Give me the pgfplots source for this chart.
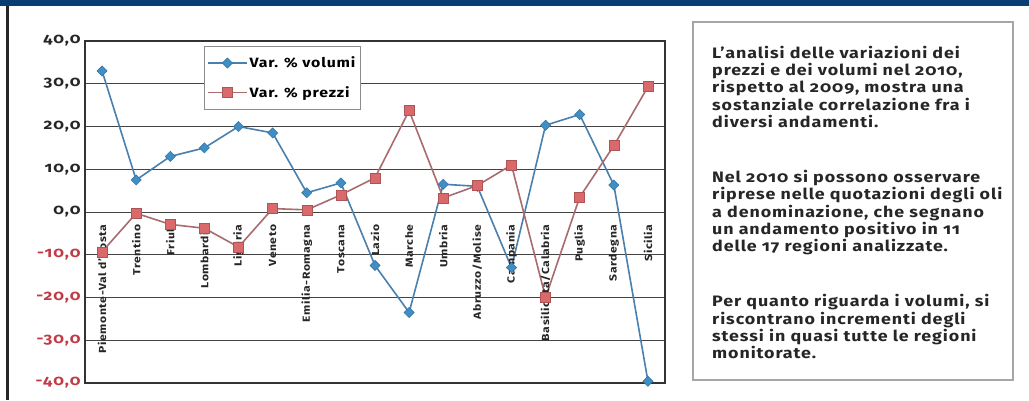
\documentclass[border=0pt]{standalone}
\usepackage{fontspec}
\setmainfont{Fira Sans}[Numbers=OldStyle, FakeStretch=1.18, LetterSpace=6]
\usepackage{pgfplots}
\pgfplotsset{compat=1.18}
\definecolor{topbar}{HTML}{0A3D72}
\definecolor{volblue}{HTML}{3F8EC6}
\definecolor{volline}{HTML}{4A80AD}
\definecolor{prred}{HTML}{D9696B}
\definecolor{prline}{HTML}{A86C6E}
\definecolor{negred}{HTML}{C23A45}
\definecolor{gridc}{HTML}{444444}
\begin{document}
\begin{tikzpicture}[x=1bp,y=1bp]
\useasboundingbox (0,0) rectangle (1029,400);
\fill[white] (0,0) rectangle (1029,400);
\fill[topbar] (0,394) rectangle (1029,400);
\fill[black!85] (6,0) rectangle (8.5,394);
\begin{axis}[
  at={(85bp,17bp)}, anchor=south west, scale only axis,
  width=580bp, height=342bp,
  xmin=0.5, xmax=17.5, ymin=-40, ymax=40,
  xtick=\empty,
  minor xtick={1.5,2.5,...,16.5},
  xminorgrids=true,
  ytick={-40,-30,...,40},
  yticklabels={{\textcolor{negred}{-40,0}},{\textcolor{negred}{-30,0}},{\textcolor{negred}{-20,0}},{\textcolor{negred}{-10,0}},{0,0},{10,0},{20,0},{30,0},{40,0}},
  ymajorgrids=true,
  major tick length=0pt, minor tick length=0pt,
  grid style={gridc, line width=1bp},
  minor grid style={gridc, line width=1bp},
  axis line style={line width=2bp, black!80},
  /pgf/number format/assume math mode=true,
  y tick label style={font=\bfseries\fontsize{14.5}{14.5}\selectfont, color=black!85, xshift=-1bp},
  clip=false,
  legend style={at={(rel axis cs:0.205,0.985)}, anchor=north west, draw=black!45, fill=white,
    font=\bfseries\fontsize{13.5}{15}\selectfont, row sep=13bp, inner xsep=3bp, inner ysep=8.5bp,
    nodes={inner xsep=2bp}},
  legend cell align=left,
  legend image code/.code={\draw[mark repeat=2,mark phase=2] plot coordinates {(0bp,0bp) (19.5bp,0bp) (39bp,0bp)};},
]
\addplot[volline, line width=1.6bp, mark=square*, mark size=3.6bp,
  mark options={rotate=45, fill=volblue, draw=volblue!80!black, line width=0.5bp}]
  coordinates {(1,33) (2,7.5) (3,13) (4,15) (5,20) (6,18.5) (7,4.5) (8,6.8) (9,-12.5)
  (10,-23.5) (11,6.5) (12,6) (13,-13) (14,20.3) (15,22.8) (16,6.3) (17,-39.6)};
\addlegendentry{Var. \% volumi}
\addplot[prline, line width=1.6bp, mark=square*, mark size=5bp,
  mark options={fill=prred, draw=prred!80!black, line width=0.5bp}]
  coordinates {(1,-9.3) (2,-0.3) (3,-2.9) (4,-3.8) (5,-8.2) (6,0.8) (7,0.5) (8,4) (9,8)
  (10,23.7) (11,3.3) (12,6.2) (13,11) (14,-20) (15,3.5) (16,15.5) (17,29.3)};
\addlegendentry{Var. \% prezzi}
\foreach \i/\lab in {1/{Piemonte-Val d'Aosta},2/Trentino,3/Friuli,4/Lombardia,5/Liguria,6/Veneto,7/Emilia-Romagna,8/Toscana,9/Lazio,10/Marche,11/Umbria,12/{Abruzzo/Molise},13/Campania,14/{Basilicata/Calabria},15/Puglia,16/Sardegna,17/Sicilia}{
  \edef\tmp{\noexpand\node[rotate=90, anchor=east, inner sep=0pt, xshift=-3bp, font=\noexpand\bfseries\noexpand\fontsize{10.3}{10.3}\noexpand\selectfont, text=black!85] at (axis cs:\i,-2.2) {\lab};}
  \tmp
}
\end{axis}
\draw[black!35, line width=1.5bp] (693,20) rectangle (1013,378);
\node[anchor=north west, inner sep=0pt, align=left, text=black!85,
  font=\bfseries\fontsize{15.2}{17.3}\selectfont] at (712,354) {%
L'analisi delle variazioni dei\\
prezzi e dei volumi nel 2010,\\
rispetto al 2009, mostra una\\
sostanziale correlazione fra i\\
diversi andamenti.\\[38bp]
Nel 2010 si possono osservare\\
riprese nelle quotazioni degli oli\\
a denominazione, che segnano\\
un andamento positivo in 11\\
delle 17 regioni analizzate.\\[38bp]
Per quanto riguarda i volumi, si\\
riscontrano incrementi degli\\
stessi in quasi tutte le regioni\\
monitorate.};
\end{tikzpicture}
\end{document}
